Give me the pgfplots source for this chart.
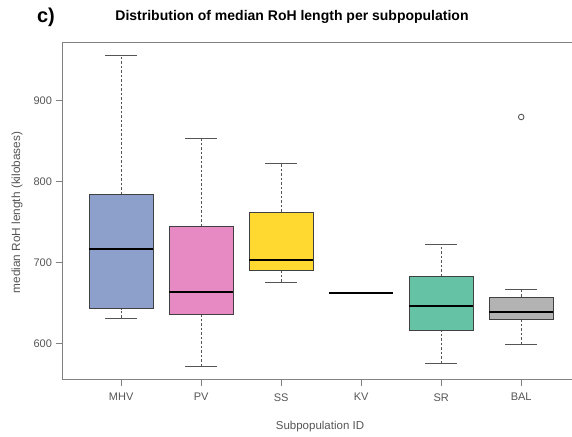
\documentclass[border=0pt]{standalone}
\usepackage{pgfplots}
\pgfplotsset{compat=1.18}
\usepackage{fontspec}
\setmainfont{Liberation Sans}
\definecolor{cMHV}{HTML}{8DA0CB}
\definecolor{cPV}{HTML}{E78AC3}
\definecolor{cSS}{HTML}{FFD92F}
\definecolor{cSR}{HTML}{66C2A5}
\definecolor{cBAL}{HTML}{B3B3B3}
\definecolor{axgray}{HTML}{808080}
\definecolor{txtgray}{HTML}{555555}
\definecolor{whisk}{HTML}{555555}
\begin{document}
\begin{tikzpicture}
\useasboundingbox (0pt,0pt) rectangle (572pt,436pt);
\begin{axis}[
  at={(62pt,56.7pt)}, anchor=south west,
  scale only axis, width=510pt, height=336.6pt,
  xmin=0.26, xmax=6.635, ymin=556, ymax=971,
  xtick={1,2,3,4,5,6}, xticklabels={MHV,PV,SS,KV,SR,BAL},
  ytick={600,700,800,900},
  tick pos=left, tick align=outside, major tick length=6.5pt,
  tick style={draw=axgray, line width=0.7pt},
  axis line style={draw=axgray, line width=0.9pt},
  ticklabel style={text=txtgray, font=\fontsize{11}{13}\selectfont},
  xticklabel style={yshift=-4pt},
  /pgf/number format/assume math mode=true,
  clip=false,
  box/.style={draw=black!75, line width=0.6pt},
  wh/.style={draw=whisk, line width=0.6pt, dash pattern=on 2.5pt off 2pt},
  cap/.style={draw=whisk, line width=0.8pt},
  med/.style={draw=black, line width=1.8pt},
]
% MHV
\addplot[wh] coordinates {(1,784) (1,955.5)};
\addplot[wh] coordinates {(1,631.7) (1,643)};
\addplot[cap] coordinates {(0.8,955.5) (1.2,955.5)};
\addplot[cap] coordinates {(0.8,631.7) (1.2,631.7)};
\addplot[box, fill=cMHV] coordinates {(0.6,643) (1.4,643) (1.4,784) (0.6,784)} --cycle;
\addplot[med] coordinates {(0.6,716.7) (1.4,716.7)};
% PV
\addplot[wh] coordinates {(2,745) (2,852.7)};
\addplot[wh] coordinates {(2,572) (2,636.6)};
\addplot[cap] coordinates {(1.8,852.7) (2.2,852.7)};
\addplot[cap] coordinates {(1.8,572) (2.2,572)};
\addplot[box, fill=cPV] coordinates {(1.6,636.6) (2.4,636.6) (2.4,745) (1.6,745)} --cycle;
\addplot[med] coordinates {(1.6,664) (2.4,664)};
% SS
\addplot[wh] coordinates {(3,762.3) (3,821.9)};
\addplot[wh] coordinates {(3,676) (3,690.5)};
\addplot[cap] coordinates {(2.8,821.9) (3.2,821.9)};
\addplot[cap] coordinates {(2.8,676) (3.2,676)};
\addplot[box, fill=cSS] coordinates {(2.6,690.5) (3.4,690.5) (3.4,762.3) (2.6,762.3)} --cycle;
\addplot[med] coordinates {(2.6,703) (3.4,703)};
% KV
\addplot[med] coordinates {(3.6,662) (4.4,662)};
% SR
\addplot[wh] coordinates {(5,683) (5,722.9)};
\addplot[wh] coordinates {(5,575.8) (5,616.9)};
\addplot[cap] coordinates {(4.8,722.9) (5.2,722.9)};
\addplot[cap] coordinates {(4.8,575.8) (5.2,575.8)};
\addplot[box, fill=cSR] coordinates {(4.6,616.9) (5.4,616.9) (5.4,683) (4.6,683)} --cycle;
\addplot[med] coordinates {(4.6,646.5) (5.4,646.5)};
% BAL
\addplot[wh] coordinates {(6,657.5) (6,667.4)};
\addplot[wh] coordinates {(6,599.2) (6,629.6)};
\addplot[cap] coordinates {(5.8,667.4) (6.2,667.4)};
\addplot[cap] coordinates {(5.8,599.2) (6.2,599.2)};
\addplot[box, fill=cBAL] coordinates {(5.6,629.6) (6.4,629.6) (6.4,657.5) (5.6,657.5)} --cycle;
\addplot[med] coordinates {(5.6,638.7) (6.4,638.7)};
\addplot[only marks, mark=o, mark size=2.8pt, mark options={draw=black!65, fill=none, line width=0.9pt}] coordinates {(6,879.4)};
\end{axis}
\node[font=\bfseries\fontsize{20}{22}\selectfont] at (46pt,419pt) {c)};
\node[font=\bfseries\fontsize{14}{16}\selectfont] at (292pt,419pt) {Distribution of median RoH length per subpopulation};
\node[rotate=90, text=txtgray, font=\fontsize{11.8}{14}\selectfont] at (17pt,223.5pt) {median RoH length (kilobases)};
\node[text=txtgray, font=\fontsize{11.5}{13}\selectfont] at (320pt,9pt) {Subpopulation ID};
\end{tikzpicture}
\end{document}
